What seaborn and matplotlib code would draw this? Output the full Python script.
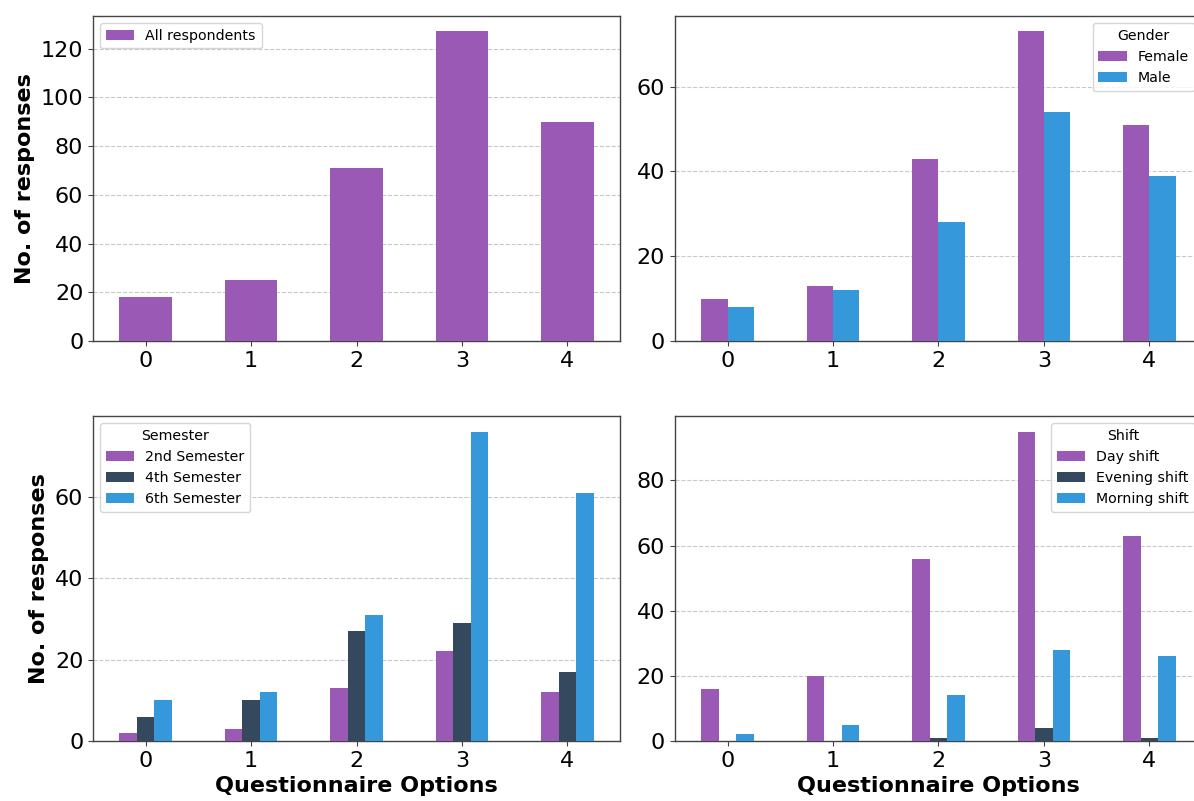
import pandas as pd
import matplotlib
matplotlib.use("Agg")
import matplotlib.pyplot as plt
import seaborn as sns

# --- Data ---
options = [0, 1, 2, 3, 4]

all_respondents = [18, 25, 71, 127, 90]

gender_levels = ["Female", "Male"]
female = [10, 13, 43, 73, 51]
male = [8, 12, 28, 54, 39]

semester_levels = ["2nd Semester", "4th Semester", "6th Semester"]
sem_2nd = [2, 3, 13, 22, 12]
sem_4th = [6, 10, 27, 29, 17]
sem_6th = [10, 12, 31, 76, 61]

shift_levels = ["Day shift", "Evening shift", "Morning shift"]
day_shift = [16, 20, 56, 95, 63]
evening_shift = [0, 0, 1, 4, 1]
morning_shift = [2, 5, 14, 28, 26]

PURPLE = "#9b59b6"
DARK = "#34495e"
BLUE = "#3498db"


def long_frame(levels, series):
    rows = []
    for level, values in zip(levels, series):
        for opt, v in zip(options, values):
            rows.append({"option": opt, "count": v, "group": level})
    return pd.DataFrame(rows)


def draw_panel(ax, df, levels, colors, title, loc, xlabel, ylabel):
    sns.barplot(data=df, x="option", y="count", hue="group", hue_order=levels,
                order=options, palette=colors, width=0.5, saturation=1,
                linewidth=0, ax=ax, legend=True, zorder=3)
    ax.set_xlim(-0.5, len(options) - 0.5)
    ax.yaxis.grid(True, linestyle="--", color="#bbbbbb", alpha=0.8, zorder=0)
    ax.xaxis.grid(False)
    ax.set_axisbelow(True)
    ax.tick_params(axis="both", labelsize=16, color="#444444", labelcolor="black")
    for s in ax.spines.values():
        s.set_color("#444444")
        s.set_linewidth(1.0)
    ax.set_xlabel(xlabel, fontsize=16, fontweight="bold", color="black")
    ax.set_ylabel(ylabel, fontsize=16, fontweight="bold", color="black")
    handles, labels = ax.get_legend_handles_labels()
    leg = ax.legend(handles, labels, title=title, loc=loc, fontsize=10.2,
                    title_fontsize=10.2)
    for t in leg.get_texts():
        t.set_color("black")


sns.set_style("ticks")
plt.rcParams["font.family"] = ["DejaVu Sans"]
plt.rcParams["text.color"] = "black"

fig = plt.figure(figsize=(11.94, 8.01), dpi=100)
ax_tl = fig.add_axes([0.0779, 0.5743, 0.4414, 0.4057])
ax_tr = fig.add_axes([0.5653, 0.5743, 0.4414, 0.4057])
ax_bl = fig.add_axes([0.0779, 0.0749, 0.4414, 0.4057])
ax_br = fig.add_axes([0.5653, 0.0749, 0.4414, 0.4057])

draw_panel(ax_tl, long_frame(["All respondents"], [all_respondents]),
           ["All respondents"], [PURPLE], None, "upper left",
           "", "No. of responses")
draw_panel(ax_tr, long_frame(gender_levels, [female, male]),
           gender_levels, [PURPLE, BLUE], "Gender", "upper right", "", "")
draw_panel(ax_bl, long_frame(semester_levels, [sem_2nd, sem_4th, sem_6th]),
           semester_levels, [PURPLE, DARK, BLUE], "Semester", "upper left",
           "Questionnaire Options", "No. of responses")
draw_panel(ax_br, long_frame(shift_levels, [day_shift, evening_shift, morning_shift]),
           shift_levels, [PURPLE, DARK, BLUE], "Shift", "upper right",
           "Questionnaire Options", "")

ax_tl.set_yticks([0, 20, 40, 60, 80, 100, 120])
ax_tr.set_yticks([0, 20, 40, 60])
ax_bl.set_yticks([0, 20, 40, 60])
ax_br.set_yticks([0, 20, 40, 60, 80])

fig.savefig("out.png", dpi=100)
